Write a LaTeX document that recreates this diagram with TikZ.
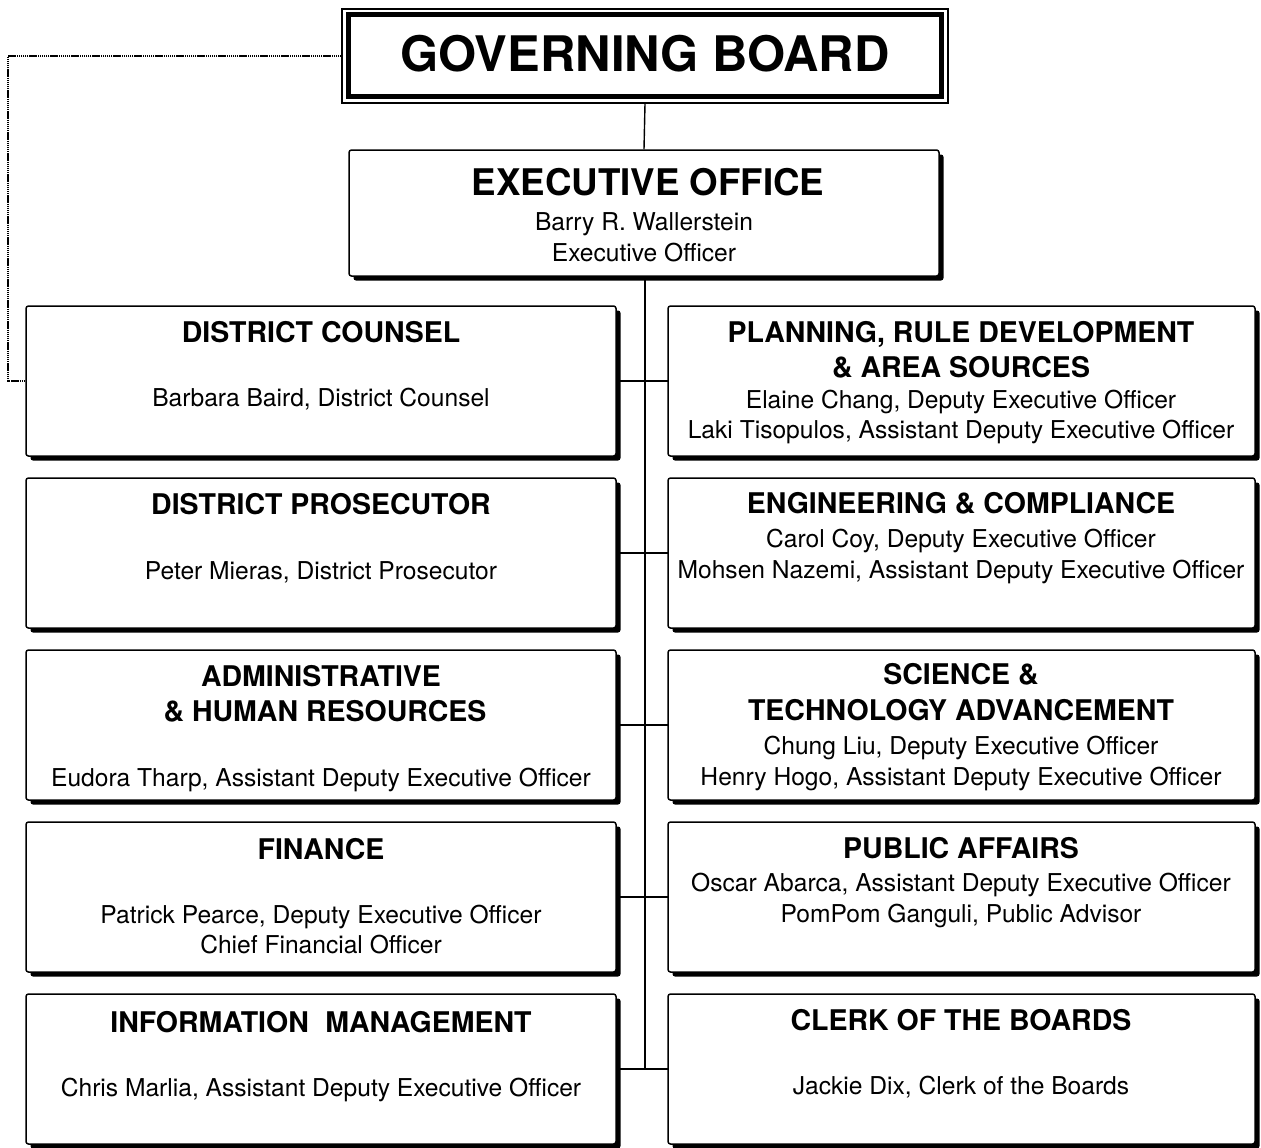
\documentclass[tikz,border=0pt]{standalone}
\usepackage{fontspec}
\setmainfont{TeX Gyre Heros}
\usetikzlibrary{shadows}
\begin{document}
\begin{tikzpicture}[x=1pt,y=-1pt,
  box/.style={draw=black, line width=1.5pt, fill=white, rounded corners=2.5pt,
    general shadow={fill=black, shadow xshift=4.5pt, shadow yshift=-4.5pt}},
  lbox/.style={box, minimum width=590pt, minimum height=150pt, inner sep=0pt},
  rbox/.style={box, minimum width=587pt, minimum height=150pt, inner sep=0pt},
  tit/.style={font=\fontsize{28.5}{30}\selectfont\bfseries, inner sep=0pt, anchor=base},
  nm/.style={font=\fontsize{24.6}{26}\selectfont, inner sep=0pt, anchor=base},
  conn/.style={line width=1.4pt, draw=black},
  dotline/.style={line width=1.8pt, dash pattern=on 1.4pt off 0.7pt}]
\useasboundingbox[fill=white] (0,0) rectangle (1261,1148);

% connectors (behind boxes)
\coordinate (spineend) at (645,1070);
\coordinate (dotcorner) at (8,56);

% Governing board
\node[draw=black, line width=1.3pt, fill=white, minimum width=606pt, minimum height=94pt, inner sep=0pt] (gb) at (645,56) {};
\draw[line width=5pt] ([shift={(7,6.5)}]gb.north west) rectangle ([shift={(-7,-7)}]gb.south east);
\node[font=\fontsize{49}{52}\selectfont\bfseries, inner sep=0pt, anchor=base] (gbt) at (645,72) {GOVERNING BOARD};

% Executive office
\node[box, minimum width=590pt, minimum height=126pt, inner sep=0pt] (eo) at (644,213) {};
\node[font=\fontsize{36.7}{40}\selectfont\bfseries, inner sep=0pt, anchor=base] (eot) at (648,195) {EXECUTIVE OFFICE};
\node[nm] (eo1) at (644,230) {Barry R. Wallerstein};
\node[nm] (eo2) at (644,261) {Executive Officer};

% spine
\draw[conn] (gb.south) -- (eo.north);
\draw[conn] (eo.south -| spineend) -- (spineend);

% horizontal connectors
\coordinate (h1l) at (616,381); \coordinate (h1r) at (668,381);
\coordinate (h2l) at (616,553); \coordinate (h2r) at (668,553);
\coordinate (h3l) at (616,725); \coordinate (h3r) at (668,725);
\coordinate (h4l) at (616,897); \coordinate (h4r) at (668,897);
\coordinate (h5l) at (616,1069); \coordinate (h5r) at (668,1069);
\draw[conn] (h1l) -- (h1r);
\draw[conn] (h2l) -- (h2r);
\draw[conn] (h3l) -- (h3r);
\draw[conn] (h4l) -- (h4r);
\draw[conn] (h5l) -- (h5r);

% left column boxes
\node[lbox] (l1) at (321,381) {};
\node[lbox] (l2) at (321,553) {};
\node[lbox] (l3) at (321,725) {};
\node[lbox] (l4) at (321,897) {};
\node[lbox] (l5) at (321,1069) {};
% right column boxes
\node[rbox] (r1) at (961.5,381) {};
\node[rbox] (r2) at (961.5,553) {};
\node[rbox] (r3) at (961.5,725) {};
\node[rbox] (r4) at (961.5,897) {};
\node[rbox] (r5) at (961.5,1069) {};

% dotted line from governing board to district counsel
\draw[dotline] (gb.west) -- (dotcorner) |- (l1.west);

% texts left
\node[tit] (l1a) at (321,342) {DISTRICT COUNSEL};
\node[nm] (l1b) at (321,406) {Barbara Baird, District Counsel};

\node[tit] (l2a) at (321,514) {DISTRICT PROSECUTOR};
\node[nm] (l2b) at (321,579) {Peter Mieras, District Prosecutor};

\node[tit] (l3a) at (321,686) {ADMINISTRATIVE};
\node[tit] (l3b) at (325,721) {\& HUMAN RESOURCES};
\node[nm] (l3c) at (321,786) {Eudora Tharp, Assistant Deputy Executive Officer};

\node[tit] (l4a) at (321,859) {FINANCE};
\node[nm] (l4b) at (321,923) {Patrick Pearce, Deputy Executive Officer};
\node[nm] (l4c) at (321,953) {Chief Financial Officer};

\node[tit] (l5a) at (321,1032) {INFORMATION\hspace{0.3em} MANAGEMENT};
\node[nm] (l5b) at (321,1096) {Chris Marlia, Assistant Deputy Executive Officer};

% texts right
\node[tit] (r1a) at (961,342) {PLANNING, RULE DEVELOPMENT};
\node[tit] (r1b) at (961,377) {\& AREA SOURCES};
\node[nm] (r1c) at (961,408) {Elaine Chang, Deputy Executive Officer};
\node[nm] (r1d) at (961,438) {Laki Tisopulos, Assistant Deputy Executive Officer};

\node[tit] (r2a) at (961,513) {ENGINEERING \& COMPLIANCE};
\node[nm] (r2b) at (961,547) {Carol Coy, Deputy Executive Officer};
\node[nm] (r2c) at (961,578) {Mohsen Nazemi, Assistant Deputy Executive Officer};

\node[tit] (r3a) at (961,684) {SCIENCE \&};
\node[tit] (r3b) at (961,720) {TECHNOLOGY ADVANCEMENT};
\node[nm] (r3c) at (961,754) {Chung Liu, Deputy Executive Officer};
\node[nm] (r3d) at (961,785) {Henry Hogo, Assistant Deputy Executive Officer};

\node[tit] (r4a) at (961,858) {PUBLIC AFFAIRS};
\node[nm] (r4b) at (961,891) {Oscar Abarca, Assistant Deputy Executive Officer};
\node[nm] (r4c) at (961,922) {PomPom Ganguli, Public Advisor};

\node[tit] (r5a) at (961,1030) {CLERK OF THE BOARDS};
\node[nm] (r5b) at (961,1094) {Jackie Dix, Clerk of the Boards};
\end{tikzpicture}
\end{document}
